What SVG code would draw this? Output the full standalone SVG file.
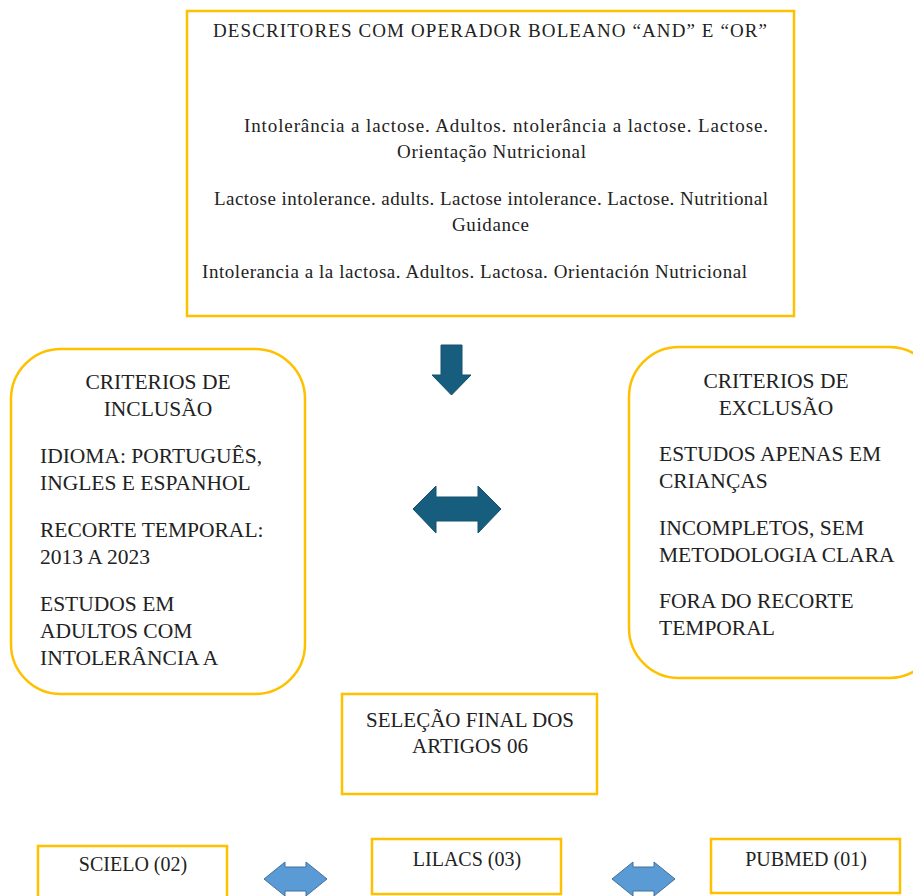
<svg xmlns="http://www.w3.org/2000/svg" width="913" height="896" viewBox="0 0 913 896">
<style>
.box{fill:#fff;stroke:#FFC000;stroke-width:2.5}
.t{font-family:"Liberation Serif","Times New Roman",serif;fill:#222;}
.s19{font-size:19px}
.s20{font-size:20px}
.s21{font-size:21px}
.s22{font-size:21.5px}
.c{text-anchor:middle}
.dark{fill:#175E7E;stroke:#14506B;stroke-width:1}
.light{fill:#5B9BD5;stroke:#41719C;stroke-width:1}
</style>
<rect width="913" height="896" fill="#fff"/>
<g id="descritores">
<rect class="box" x="187" y="11" width="607" height="305"/>
<text class="t s19 c" x="490" y="37" textLength="554">DESCRITORES COM OPERADOR BOLEANO “AND” E “OR”</text>
<text class="t s19 c" x="506" y="132" textLength="524">Intolerância a lactose. Adultos. ntolerância a lactose. Lactose.</text>
<text class="t s19 c" x="491.5" y="158" textLength="189">Orientação Nutricional</text>
<text class="t s19 c" x="491" y="205" textLength="554">Lactose intolerance. adults. Lactose intolerance. Lactose. Nutritional</text>
<text class="t s19 c" x="490.5" y="231" textLength="77">Guidance</text>
<text class="t s19 c" x="474.5" y="278" textLength="545">Intolerancia a la lactosa. Adultos. Lactosa. Orientación Nutricional</text>
</g>
<g id="inclusao">
<rect class="box" x="11" y="349" width="294" height="345" rx="50" ry="50"/>
<text class="t s22 c" x="158" y="389">CRITERIOS DE</text>
<text class="t s22 c" x="158" y="416">INCLUSÃO</text>
<text class="t s22" x="40" y="463">IDIOMA: PORTUGUÊS,</text>
<text class="t s22" x="40" y="490">INGLES E ESPANHOL</text>
<text class="t s22" x="40" y="537">RECORTE TEMPORAL:</text>
<text class="t s22" x="40" y="564">2013 A 2023</text>
<text class="t s22" x="40" y="611">ESTUDOS EM</text>
<text class="t s22" x="40" y="638">ADULTOS COM</text>
<text class="t s22" x="40" y="665">INTOLERÂNCIA A</text>
</g>
<g id="exclusao">
<rect class="box" x="629" y="347" width="310" height="331" rx="50" ry="50"/>
<text class="t s22 c" x="776" y="388">CRITERIOS DE</text>
<text class="t s22 c" x="776" y="415">EXCLUSÃO</text>
<text class="t s22" x="659" y="461">ESTUDOS APENAS EM</text>
<text class="t s22" x="659" y="488">CRIANÇAS</text>
<text class="t s22" x="659" y="535">INCOMPLETOS, SEM</text>
<text class="t s22" x="659" y="562">METODOLOGIA CLARA</text>
<text class="t s22" x="659" y="608">FORA DO RECORTE</text>
<text class="t s22" x="659" y="635">TEMPORAL</text>
</g>
<g id="selecao">
<rect class="box" x="342" y="694" width="255" height="100"/>
<text class="t s21 c" x="470" y="727">SELEÇÃO FINAL DOS</text>
<text class="t s21 c" x="470" y="753">ARTIGOS 06</text>
</g>
<g id="scielo">
<rect class="box" x="38" y="846" width="189" height="60"/>
<text class="t s20 c" x="133" y="871">SCIELO (02)</text>
</g>
<g id="lilacs">
<rect class="box" x="372" y="839" width="189" height="55"/>
<text class="t s20 c" x="467" y="866">LILACS (03)</text>
</g>
<g id="pubmed">
<rect class="box" x="711" y="839" width="189" height="54"/>
<text class="t s20 c" x="806" y="866">PUBMED (01)</text>
</g>
<g id="connectors">
<polygon class="dark" points="441,345 462,345 462,375 471,375 451.5,395 432,375 441,375"/>
<polygon class="dark" points="413,509 436,486 436,497 478,497 478,486 501,509 478,533 478,521 436,521 436,533"/>
<polygon class="light" points="264,879 285,862 285,867 306,867 306,862 327,879 306,896 306,891 285,891 285,896"/>
<polygon class="light" points="612,879 633,862 633,867 654,867 654,862 675,879 654,896 654,891 633,891 633,896"/>
</g>
</svg>
